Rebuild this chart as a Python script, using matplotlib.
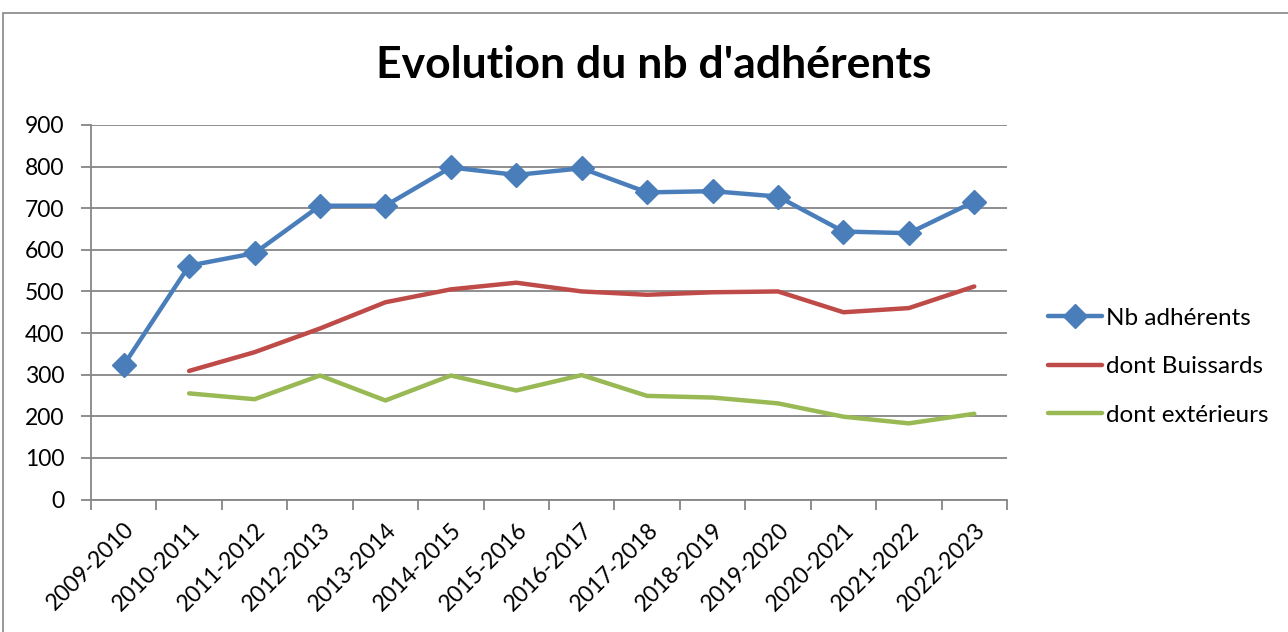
import numpy as np
import matplotlib.pyplot as plt
from matplotlib.patches import Rectangle

saisons = ['2009-2010', '2010-2011', '2011-2012', '2012-2013', '2013-2014',
           '2014-2015', '2015-2016', '2016-2017', '2017-2018', '2018-2019',
           '2019-2020', '2020-2021', '2021-2022', '2022-2023']
nb_adherents = [323, 562, 592, 706, 706, 798, 780, 796, 738, 741, 728, 644, 640, 716]
buissards = [np.nan, 309, 354, 411, 474, 505, 521, 500, 492, 498, 500, 450, 460, 512]
exterieurs = [np.nan, 255, 241, 298, 238, 298, 262, 299, 249, 245, 231, 199, 183, 206]

plt.rcParams['font.family'] = ['Lato', 'DejaVu Sans']
grey = '#868686'

fig = plt.figure(figsize=(12.88, 6.32), dpi=100)
fig.patches.append(Rectangle((3 / 1288, -0.1), 1.2, 1 - 13 / 632 + 0.1,
                             transform=fig.transFigure, fill=False,
                             edgecolor=grey, linewidth=1.2))

ax = fig.add_axes([91 / 1288, 1 - 499.5 / 632, (1007 - 91) / 1288, (499.5 - 125) / 632])
x = np.arange(len(saisons))

ax.plot(x, nb_adherents, color='#4A7EBB', linewidth=3.2, marker='D',
        markersize=12, label='Nb adhérents', solid_capstyle='round')
ax.plot(x, buissards, color='#BE4B48', linewidth=3.2, label='dont Buissards',
        solid_capstyle='round')
ax.plot(x, exterieurs, color='#98B954', linewidth=3.2, label='dont extérieurs',
        solid_capstyle='round')

ax.set_xlim(-0.5, len(saisons) - 0.5)
ax.set_ylim(0, 900)
ax.set_yticks(range(0, 901, 100))
ax.grid(axis='y', color=grey, linewidth=1.3)
ax.set_axisbelow(True)

ax.set_xticks(np.arange(-0.5, len(saisons)), labels=[''] * (len(saisons) + 1))
ax.set_xticks(x, labels=saisons, minor=True)
ax.tick_params(axis='x', which='major', length=7, color=grey, width=1.3)
ax.tick_params(axis='x', which='minor', length=0, labelsize=16.5, pad=14)
ax.tick_params(axis='y', length=7, color=grey, width=1.3, labelsize=16.5, pad=12)
for lab in ax.get_xticklabels(minor=True):
    lab.set_rotation(45)
    lab.set_ha('right')
    lab.set_rotation_mode('anchor')

for side in ['top', 'right']:
    ax.spines[side].set_visible(False)
for side in ['left', 'bottom']:
    ax.spines[side].set_color(grey)
    ax.spines[side].set_linewidth(1.3)

fig.text(654 / 1288, 1 - 65 / 632, "Evolution du nb d'adhérents", fontsize=32,
         fontweight='bold', ha='center', va='center')

ax.legend(loc='center left', bbox_to_anchor=(1.045, 0.354), frameon=False,
          fontsize=17.5, handlelength=2.2, handletextpad=0.16, labelspacing=1.13,
          borderaxespad=0, borderpad=0)

fig.savefig('out.png', dpi=100)
